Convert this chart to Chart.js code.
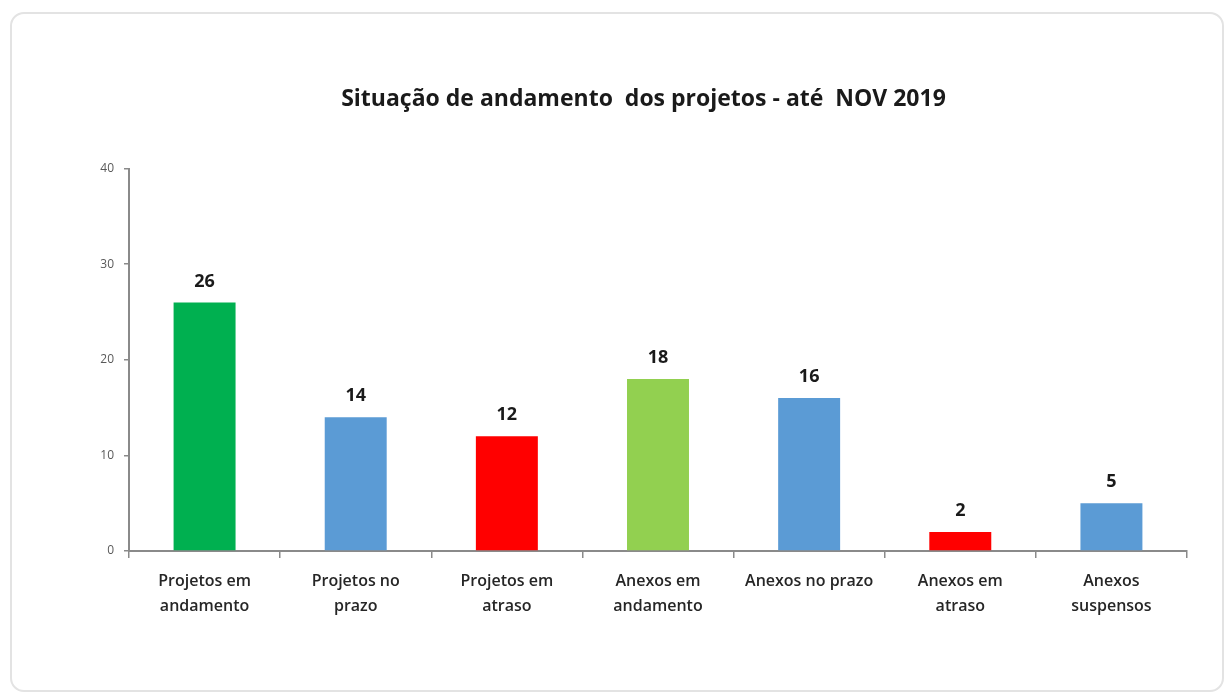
<!DOCTYPE html>
<html>
<head>
<meta charset="utf-8">
<script src="https://cdn.jsdelivr.net/npm/chart.js"></script>
<style>
  html, body { margin: 0; padding: 0; background: #fff; }
  #frame {
    position: absolute; left: 10px; top: 12px; width: 1210px; height: 676px;
    border: 2px solid #e3e3e3; border-radius: 14px;
  }
  #wrap { position: absolute; left: 0; top: 0; width: 1232px; height: 696px; }
</style>
</head>
<body>
<div id="frame"></div>
<div id="wrap"><canvas id="barChart"></canvas></div>
<script>
// Catégories et valeurs
const categories = [
    ['Projetos em', 'andamento'],
    ['Projetos no', 'prazo'],
    ['Projetos em', 'atraso'],
    ['Anexos em', 'andamento'],
    'Anexos no prazo',
    ['Anexos em', 'atraso'],
    ['Anexos', 'suspensos']
];
const values = [26, 14, 12, 18, 16, 2, 5];
const barColors = ['#00B050', '#5B9BD5', '#FF0000', '#92D050', '#5B9BD5', '#FF0000', '#5B9BD5'];
const yTicks = [0, 10, 20, 30, 40];

const fontFamily = '"Open Sans", "Liberation Sans", sans-serif';

// Étiquettes de valeurs au-dessus des barres
const valueLabels = {
    id: 'valueLabels',
    afterDatasetsDraw(chart) {
        const ctx = chart.ctx;
        const meta = chart.getDatasetMeta(0);
        ctx.save();
        ctx.font = 'bold 18px ' + fontFamily;
        ctx.fillStyle = '#1a1a1a';
        ctx.textAlign = 'center';
        ctx.textBaseline = 'bottom';
        meta.data.forEach((bar, i) => {
            ctx.fillText(String(values[i]), bar.x, bar.y - 12);
        });
        ctx.restore();
    }
};

const barData = {
    labels: categories,
    datasets: [{
        label: 'Situação',
        data: values,
        backgroundColor: barColors,
        barPercentage: 0.41,
        categoryPercentage: 1.0
    }]
};

const barOptions = {
    responsive: true,
    maintainAspectRatio: false,
    animation: false,
    layout: { padding: { left: 100, right: 45, top: 0, bottom: 0 } },
    plugins: {
        legend: { display: false },
        tooltip: { enabled: false },
        title: {
            display: true,
            text: 'Situação de andamento  dos projetos - até  NOV 2019',
            color: '#1a1a1a',
            font: { family: fontFamily, size: 23, weight: 'bold' },
            padding: { top: 86, bottom: 55 }
        }
    },
    scales: {
        x: {
            grid: {
                display: true,
                drawOnChartArea: false,
                drawTicks: true,
                tickLength: 7,
                color: '#8a8a8a',
                lineWidth: 1.5
            },
            border: { display: true, color: '#8a8a8a', width: 2 },
            ticks: {
                color: '#262626',
                padding: 11,
                maxRotation: 0,
                autoSkip: false,
                font: { family: fontFamily, size: 16, weight: '600', lineHeight: 1.55 }
            },
            afterFit(scale) { scale.height = 145; }
        },
        y: {
            min: 0,
            max: 40,
            afterBuildTicks(scale) { scale.ticks = yTicks.map(v => ({ value: v })); },
            grid: {
                display: true,
                drawOnChartArea: false,
                drawTicks: true,
                tickLength: 5,
                color: '#8a8a8a',
                lineWidth: 1.5
            },
            border: { display: true, color: '#8a8a8a', width: 2 },
            ticks: {
                color: '#595959',
                padding: 10,
                font: { family: fontFamily, size: 12 }
            },
            afterFit(scale) { scale.width = 29; }
        }
    }
};

let barCanvas = document.getElementById('barChart');
let barCtx = barCanvas.getContext('2d');

const myBarChart = new Chart(barCtx, {
    type: 'bar',
    data: barData,
    options: barOptions,
    plugins: [valueLabels]
});
</script>
</body>
</html>
